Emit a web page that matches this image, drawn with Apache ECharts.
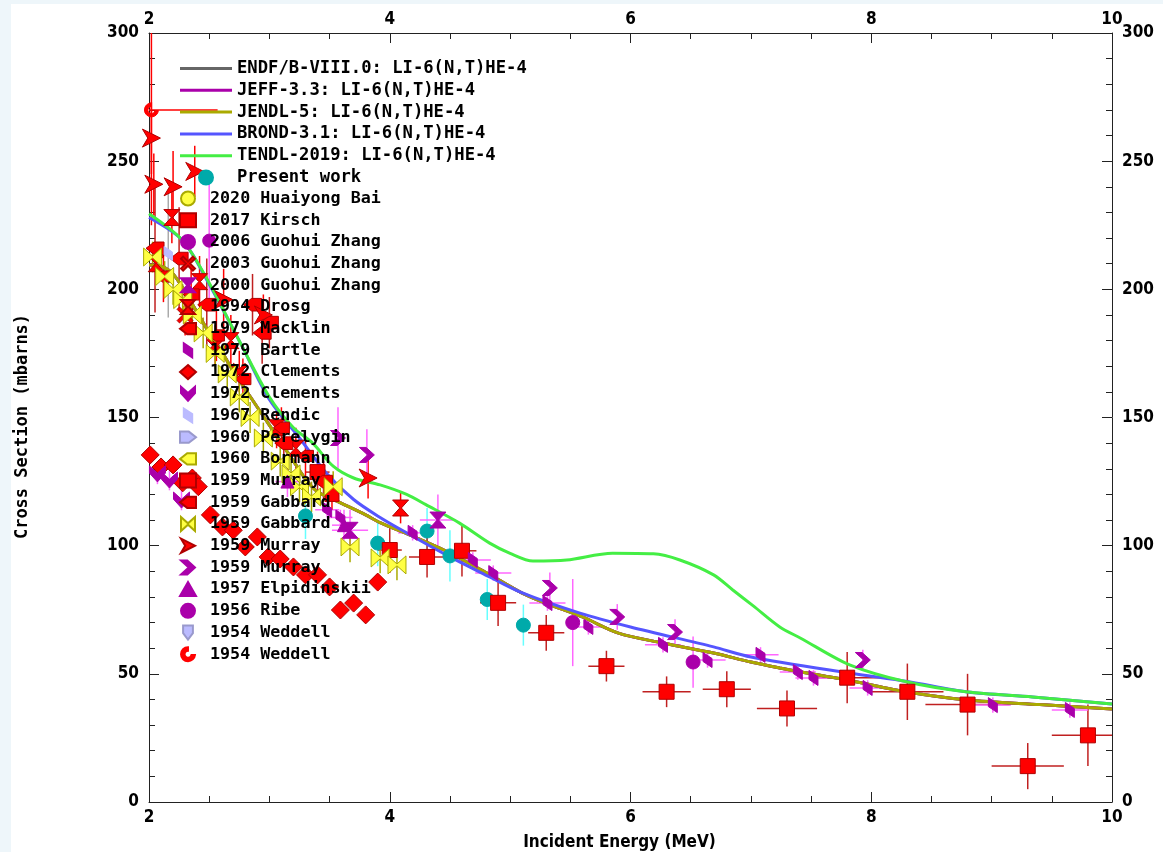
<!DOCTYPE html>
<html>
<head>
<meta charset="utf-8">
<script src="https://cdn.jsdelivr.net/npm/echarts@6/dist/echarts.min.js"></script>
<style>
  html, body { margin: 0; padding: 0; background: #eef6fa; }
  #chart { position: absolute; left: 11px; top: 4px; width: 1152px; height: 848px; background: #fff; }
</style>
</head>
<body>
<div id="chart"></div>
<script>
// evaluated curves: energy (MeV) / cross section (mb)
const jendlE = [2.0, 2.1, 2.2, 2.3, 2.4, 2.5, 2.6, 2.7, 2.8, 2.9, 3.0, 3.1, 3.2, 3.3, 3.4, 3.6, 3.8, 3.92, 4.2, 4.45, 4.8, 5.1, 5.3, 5.6, 5.9, 6.27, 6.69, 7.0, 7.24, 7.5, 7.8, 8.3, 8.8, 9.4, 10.0];
const jendlY = [209.5, 209, 206, 199, 191, 183, 176, 168, 161, 154, 147, 140, 133, 126, 121, 116.5, 112, 109, 103.5, 98.3, 89.5, 81.5, 77.5, 72.2, 65.9, 62, 58.1, 54.6, 52.3, 50, 47.6, 42.9, 39.8, 38, 36.3];
const endfY = [209.5, 209, 206, 199, 191, 183, 176, 168, 161, 154, 147, 140, 133, 126, 121, 116.5, 112, 109, 103.5, 98.3, 89.5, 81.5, 77.5, 72.2, 65.9, 62, 58.1, 54.6, 52.3, 50, 47.6, 42.9, 39.8, 38, 36.3];
const jeffY = [209.5, 209, 206, 199, 191, 183, 176, 168, 161, 154, 147, 140, 133, 126, 121, 116.5, 112, 109, 103.5, 98.3, 89.5, 81.5, 77.5, 72.2, 65.9, 62, 58.1, 54.6, 52.3, 50, 47.6, 42.9, 39.8, 38, 36.3];

const brondE = [2.0, 2.28, 2.5, 2.76, 3.0, 3.25, 3.48, 3.7, 3.92, 4.14, 4.5, 4.83, 5.08, 5.58, 6.0, 6.69, 7.0, 7.82, 8.3, 8.8, 9.34, 10.0];
const brondY = [228, 219, 202, 179, 157, 142, 128, 118, 111, 105, 95.6, 87.8, 82, 73.7, 68.3, 60.5, 56.6, 50.3, 47, 42.9, 41, 38.2];

const tendlE = [2.0, 2.28, 2.5, 2.76, 3.0, 3.2, 3.36, 3.53, 3.7, 3.92, 4.14, 4.3, 4.58, 4.83, 5.0, 5.19, 5.47, 5.85, 6.19, 6.41, 6.69, 6.85, 7.02, 7.24, 7.41, 7.82, 8.3, 8.8, 9.34, 10.0];
const tendlY = [229.5, 219, 202.5, 179, 158, 146, 140, 131, 126.4, 123.7, 120, 116, 108.8, 101, 97, 94, 94.4, 97, 96.8, 94.4, 88.6, 82.7, 76.5, 68.3, 64, 53.5, 46.8, 42.9, 41, 38.2];

// measurements: [E, sigma, dE, dSigma]
const presentWork = [[3.30, 111.6, 0, 9], [3.90, 101, 0, 9], [4.31, 105.7, 0, 9], [4.50, 96, 0, 10], [4.81, 79, 0, 8], [5.11, 69, 0, 8]];
const bai2020 = [];
const kirsch2017 = [[3.40, 128.7, 0.1, 8], [4.00, 98.3, 0.1, 9], [4.31, 95.6, 0.15, 8], [4.60, 98, 0.12, 10], [4.90, 77.7, 0.15, 9],
  [5.30, 66, 0.15, 7], [5.80, 53, 0.15, 6], [6.30, 43, 0.2, 6], [6.80, 44, 0.2, 7], [7.30, 36.5, 0.25, 7],
  [7.80, 48.5, 0.3, 10], [8.30, 43, 0.3, 11], [8.80, 38, 0.35, 12], [9.30, 14, 0.3, 9], [9.80, 26, 0.3, 12]];
const zhang2006 = [[2.5, 219, 0, 25]];
const zhang2003 = [[2.3, 190, 0, 8], [2.55, 178, 0, 8], [2.75, 168, 0, 8]];
const zhang2000 = [[3.67, 106, 0.15, 8], [4.40, 110, 0.15, 10]];
const drosg1994 = [[2.19, 228, 0, 10], [2.06, 210, 0, 8], [2.42, 203, 0, 10], [2.68, 180, 0, 10], [3.06, 146, 0, 8], [3.22, 138, 0, 8], [4.09, 114.7, 0, 6]];
const macklin1979 = [[2.05, 216, 0, 25], [2.25, 212, 0, 20], [2.48, 194, 0, 18], [2.86, 194, 0, 12], [2.94, 183, 0, 12], [3.0, 187, 0, 10], [3.12, 140, 0, 8], [3.45, 125, 0, 8]];
const bartle1979 = [[3.48, 114, 0.1, 3], [3.59, 111, 0.1, 3], [4.19, 105, 0.12, 3], [4.69, 94.4, 0.15, 3], [4.86, 89.3, 0.15, 3], [5.31, 77.6, 0.15, 3],
  [5.65, 68.3, 0.15, 3], [6.27, 61.3, 0.15, 3], [6.64, 55.4, 0.15, 3], [7.08, 57.4, 0.15, 3], [7.39, 50.7, 0.15, 3], [7.52, 48.4, 0.15, 3],
  [7.97, 44.5, 0.15, 3], [9.01, 37.8, 0.15, 3], [9.65, 35.9, 0.15, 3]];
const clementsRed = [[2.01, 135.4, 0, 0], [2.10, 130.7, 0, 0], [2.20, 131.5, 0, 0], [2.28, 124.5, 0, 0], [2.36, 126.4, 0, 0], [2.41, 123, 0, 0],
  [2.51, 112, 0, 0], [2.61, 107.3, 0, 0], [2.70, 106, 0, 0], [2.80, 99.5, 0, 0], [2.90, 103.4, 0, 0], [2.99, 95.6, 0, 0],
  [3.09, 94.8, 0, 0], [3.20, 91.7, 0, 0], [3.30, 88.6, 0, 0], [3.40, 88.6, 0, 0], [3.50, 83.9, 0, 0], [3.59, 74.9, 0, 0],
  [3.70, 77.6, 0, 0], [3.80, 73, 0, 0], [3.90, 85.8, 0, 0]];
const clementsMag = [[2.07, 128, 0, 4], [2.17, 125.6, 0, 4], [2.27, 117.8, 0, 4]];
const rendic1967 = [[2.16, 214, 0, 25]];
const perelygin1960 = [];
const bormann1960 = [];
const murrayA = [[3.52, 120, 0, 6]];
const gabbardRed = [[2.12, 205, 0, 10], [2.35, 198, 0, 10], [2.56, 182, 0, 10], [2.78, 165, 0, 8], [3.1, 146, 0, 8], [3.3, 135, 0, 8]];
const gabbardYel = [[2.03, 212.6, 0, 6], [2.13, 205, 0, 6], [2.2, 200, 0, 6], [2.28, 196, 0, 6], [2.36, 190, 0, 6], [2.45, 183, 0, 6],
  [2.55, 175, 0, 6], [2.65, 167, 0, 6], [2.75, 158, 0, 6], [2.84, 150, 0, 6], [2.95, 142, 0, 6], [3.09, 133, 0, 6],
  [3.18, 128, 0, 6], [3.25, 123, 0, 6], [3.35, 119, 0, 6], [3.53, 123, 0, 6], [3.67, 99.5, 0, 6], [3.92, 95.2, 0, 6], [4.06, 92.5, 0, 6]];
const murrayB = [[2.02, 259, 0, 14], [2.04, 241, 0, 12], [2.20, 240, 0, 14], [2.38, 246, 0, 10], [2.62, 196, 0, 12], [2.95, 190, 0, 8], [3.82, 126.4, 0, 8]];
const murrayC = [[3.57, 142, 0, 12], [3.81, 135.4, 0, 10], [5.33, 83.5, 0, 6], [5.89, 72.2, 0, 5], [6.37, 66.3, 0, 5], [7.93, 55.4, 0, 4]];
const elpidinskii1957 = [[3.15, 125, 0.1, 6], [3.62, 108, 0.1, 6]];
const ribe1956 = [[5.52, 70, 0, 17], [6.52, 54.6, 0, 10]];
const weddellLav = [];
const weddellRed = [[2.02, 270, 0.55, 45]];

const SYM = {
  hourglass: 'path://M0,0L20,0L11,10L20,20L0,20L9,10Z',
  bowtie: 'path://M0,0L10,9L20,0L20,20L10,11L0,20Z',
  chevronR: 'path://M0,0L9,0L20,10L9,20L0,20L11,10Z',
  chevronD: 'path://M0,0L10,9L20,0L20,9L10,20L0,9Z',
  skew: 'path://M0,0L12,8L12,20L0,12Z',
  arrowR: 'path://M0,0L20,10L0,20L6,10Z',
  pentR: 'path://M0,3L11,3L20,10L11,17L0,17Z',
  pentL: 'path://M20,3L9,3L0,10L9,17L20,17Z',
  pentD: 'path://M3,0L17,0L17,11L10,20L3,11Z',
  cross: 'path://M0,3L3,0L10,7L17,0L20,3L13,10L20,17L17,20L10,13L3,20L0,17L7,10Z',
  ringC: 'path://M10,0A10,10,0,1,0,20,11L15,11A5,5,0,1,1,10,5Z'
};
const LINE_ICON = 'path://M0,0L52,0L52,3L0,3Z';

const RED = '#ff0000', DRED = '#b00000', MAG = '#aa00aa', PINK = '#ff66ff',
  YEL = '#ffff44', OLV = '#aaaa00', LAV = '#bbbbff', GRY = '#aaaaaa';

// name, data, symbol, size, fill, border, bar colour
const experiments = [
  ['Present work', presentWork, 'circle', 14, '#00aaaa', '#00aaaa', '#66ffff'],
  ['2020 Huaiyong Bai', bai2020, 'circle', 14, YEL, OLV, OLV],
  ['2017 Kirsch', kirsch2017, 'rect', 15, RED, DRED, '#c02020'],
  ['2006 Guohui Zhang', zhang2006, 'circle', 13, MAG, MAG, PINK],
  ['2003 Guohui Zhang', zhang2003, SYM.cross, 16, RED, DRED, RED],
  ['2000 Guohui Zhang', zhang2000, SYM.hourglass, 16, MAG, MAG, PINK],
  ['1994 Drosg', drosg1994, SYM.hourglass, 16, RED, DRED, RED],
  ['1979 Macklin', macklin1979, SYM.pentL, 18, RED, DRED, '#c02020'],
  ['1979 Bartle', bartle1979, SYM.skew, 15, MAG, MAG, PINK],
  ['1972 Clements', clementsRed, 'diamond', 18, RED, DRED, RED],
  ['1972 Clements#2', clementsMag, SYM.chevronD, 16, MAG, MAG, PINK],
  ['1967 Rendic', rendic1967, SYM.skew, 14, LAV, LAV, GRY],
  ['1960 Perelygin', perelygin1960, SYM.pentR, 15, LAV, '#9999cc', GRY],
  ['1960 Bormann', bormann1960, SYM.pentL, 15, YEL, OLV, OLV],
  ['1959 Murray', murrayA, 'rect', 14, RED, DRED, RED],
  ['1959 Gabbard', gabbardRed, SYM.pentL, 16, RED, DRED, RED],
  ['1959 Gabbard#2', gabbardYel, SYM.bowtie, 18, YEL, OLV, OLV],
  ['1959 Murray#2', murrayB, SYM.arrowR, 18, RED, DRED, RED],
  ['1959 Murray#3', murrayC, SYM.chevronR, 15, MAG, MAG, PINK],
  ['1957 Elpidinskii', elpidinskii1957, 'triangle', 13, MAG, MAG, PINK],
  ['1956 Ribe', ribe1956, 'circle', 14, MAG, MAG, PINK],
  ['1954 Weddell', weddellLav, SYM.pentD, 15, LAV, '#9999cc', GRY],
  ['1954 Weddell#2', weddellRed, SYM.ringC, 14, RED, RED, RED]
];

const curves = [
  ['ENDF/B-VIII.0: LI-6(N,T)HE-4', jendlE, endfY, '#666666'],
  ['JEFF-3.3: LI-6(N,T)HE-4', jendlE, jeffY, '#aa00aa'],
  ['JENDL-5: LI-6(N,T)HE-4', jendlE, jendlY, '#aaaa00'],
  ['BROND-3.1: LI-6(N,T)HE-4', brondE, brondY, '#5555ff'],
  ['TENDL-2019: LI-6(N,T)HE-4', tendlE, tendlY, '#44ee44']
];

const clamp = (v, lo, hi) => Math.max(lo, Math.min(hi, v));

// error bars of all measurements in one custom series
const barData = [];
experiments.forEach((exp, k) => {
  exp[1].forEach(d => barData.push([d[0], d[1], d[2], d[3], k]));
});

function renderBars(params, api) {
  const x = api.value(0), y = api.value(1), dx = api.value(2), dy = api.value(3);
  const color = experiments[api.value(4)][6];
  const children = [];
  if (dy > 0) {
    const a = api.coord([x, clamp(y - dy, 0, 300)]);
    const b = api.coord([x, clamp(y + dy, 0, 300)]);
    children.push({type: 'line', shape: {x1: a[0], y1: a[1], x2: b[0], y2: b[1]}, style: {stroke: color, lineWidth: 1.5}});
  }
  if (dx > 0) {
    const a = api.coord([clamp(x - dx, 2, 10), y]);
    const b = api.coord([clamp(x + dx, 2, 10), y]);
    children.push({type: 'line', shape: {x1: a[0], y1: a[1], x2: b[0], y2: b[1]}, style: {stroke: color, lineWidth: 1.5}});
  }
  return {type: 'group', children};
}

const series = [];
curves.forEach(c => {
  series.push({
    type: 'line', name: c[0], data: c[1].map((e, i) => [e, c[2][i]]),
    symbol: 'none', smooth: 0.3, lineStyle: {color: c[3], width: 3}, itemStyle: {color: c[3]}, z: 2
  });
});
experiments.forEach(exp => {
  series.push({
    type: 'scatter', name: exp[0], data: exp[1].map(d => [d[0], d[1]]),
    symbol: exp[2], symbolSize: exp[3], symbolKeepAspect: true,
    itemStyle: {color: exp[4], borderColor: exp[5], borderWidth: 1, opacity: 1}, z: 3
  });
});
series.push({type: 'custom', name: 'errorbars', data: barData, renderItem: renderBars, z: 1, silent: true});

const tickFont = {fontFamily: 'DejaVu Sans Condensed, Liberation Sans Narrow, sans-serif', fontSize: 17, fontWeight: 'bold', color: '#000'};
const stripName = name => name.replace(/#\d$/, '');

function xAxisCfg(pos) {
  return {
    type: 'value', min: 2, max: 10, interval: 2, position: pos,
    axisLine: {show: true, onZero: false, lineStyle: {color: '#222', width: 1}},
    axisTick: {show: true, inside: true, length: 10, lineStyle: {color: '#222'}},
    minorTick: {show: true, splitNumber: 4, length: 6, lineStyle: {color: '#222'}},
    splitLine: {show: false},
    axisLabel: Object.assign({margin: pos === 'bottom' ? 7 : 5}, tickFont)
  };
}
function yAxisCfg(pos) {
  return {
    type: 'value', min: 0, max: 300, interval: 50, position: pos,
    axisLine: {show: true, onZero: false, lineStyle: {color: '#222', width: 1}},
    axisTick: {show: true, inside: true, length: 10, lineStyle: {color: '#222'}},
    minorTick: {show: true, splitNumber: 5, length: 6, lineStyle: {color: '#222'}},
    splitLine: {show: false},
    axisLabel: Object.assign({margin: 10}, tickFont)
  };
}

const xBottom = xAxisCfg('bottom');
xBottom.name = 'Incident Energy (MeV)';
xBottom.nameLocation = 'middle';
xBottom.nameGap = 32;
xBottom.nameTextStyle = {fontFamily: 'DejaVu Sans Condensed, sans-serif', fontSize: 17, fontWeight: 'bold', color: '#000', padding: [0, 22, 0, 0]};
const yLeft = yAxisCfg('left');
yLeft.name = 'Cross Section (mbarns)';
yLeft.nameLocation = 'middle';
yLeft.nameGap = 118;
yLeft.nameTextStyle = {fontFamily: 'DejaVu Sans Mono, monospace', fontSize: 17, fontWeight: 'bold', color: '#000', padding: [0, 18, 0, 0]};

const chart = echarts.init(document.getElementById('chart'));
chart.setOption({
  animation: false,
  backgroundColor: '#ffffff',
  grid: {left: 138, top: 29, right: 51, bottom: 50, outerBoundsMode: 'none', containLabel: false},
  xAxis: [xBottom, xAxisCfg('top')],
  yAxis: [yLeft, yAxisCfg('right')],
  legend: [
    {
      data: curves.map(c => ({name: c[0], icon: LINE_ICON})).concat([{name: 'Present work'}]),
      orient: 'vertical', left: 169, top: 56, padding: 0, itemWidth: 52, itemHeight: 14, itemGap: 4.8,
      symbolKeepAspect: true, selectedMode: false, formatter: stripName,
      textStyle: {fontFamily: 'DejaVu Sans Mono, monospace', fontSize: 17.2, fontWeight: 'bold', color: '#000'}
    },
    {
      data: experiments.slice(1).map(e => e[0]),
      orient: 'vertical', left: 168, top: 186, padding: 0, itemWidth: 16, itemHeight: 14, itemGap: 4.7,
      symbolKeepAspect: true, selectedMode: false, formatter: stripName,
      textStyle: {fontFamily: 'DejaVu Sans Mono, monospace', fontSize: 16.7, fontWeight: 'bold', color: '#000', padding: [0, 0, 0, 9]}
    }
  ],
  series: series
});
</script>
</body>
</html>
